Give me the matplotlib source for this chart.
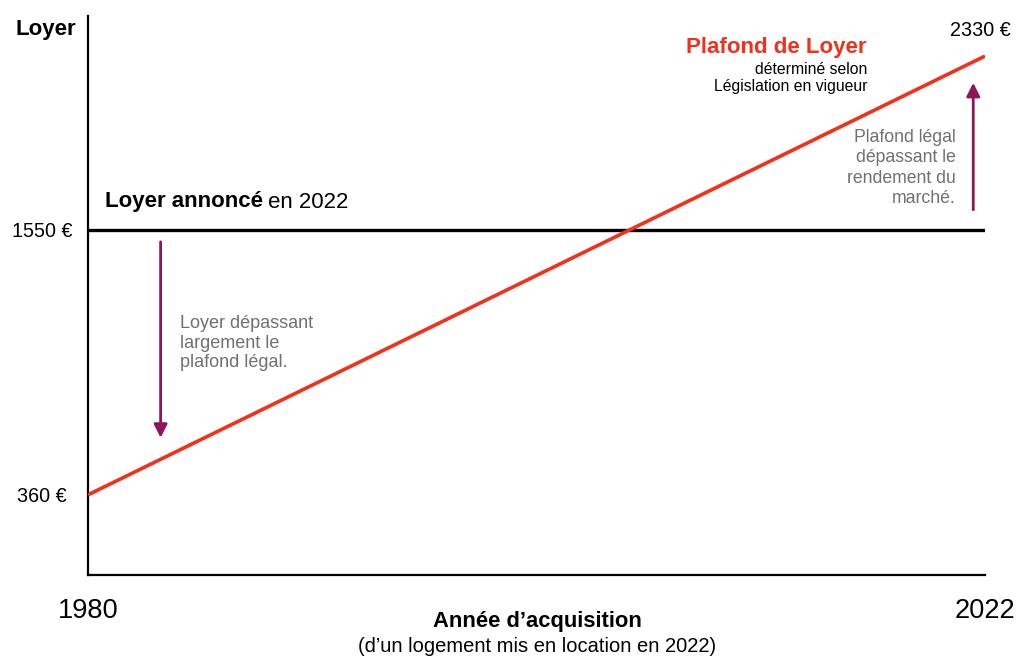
import matplotlib.pyplot as plt
from matplotlib.transforms import ScaledTranslation

plt.rcParams['font.family'] = ['Liberation Sans', 'DejaVu Sans']

# valeurs
annees = [1980, 2022]
plafond = [360, 2330]
loyer_annonce = 1550
y_ticks = [360, 1550]
y_labels = ['360 €', '1550 €']

rouge = '#f2301c'
violet = '#8c1657'
gris = '#707070'

W, H = 1016, 657
fig = plt.figure(figsize=(W / 100, H / 100), dpi=100)
ax = fig.add_axes([88 / W, 1 - 575 / H, 897 / W, 559 / H])


def px(x, y):
    # pixels -> fraction de figure
    return x / W, 1 - y / H


ax.plot(annees, plafond, color=rouge, lw=2.6, solid_capstyle='butt', zorder=3)
ax.plot(annees, [loyer_annonce] * 2, color='black', lw=2.4, solid_capstyle='butt', zorder=2)

ax.set_xlim(1980, 2022)
ax.set_ylim(0, 2510)
for s in ['top', 'right']:
    ax.spines[s].set_visible(False)
for s in ['left', 'bottom']:
    ax.spines[s].set_linewidth(1.6)

ax.set_yticks(y_ticks)
ax.set_yticklabels(y_labels, fontsize=14.2)
ax.set_xticks(annees)
ax.set_xticklabels([str(a) for a in annees], fontsize=19.6)
ax.tick_params(axis='y', length=0, pad=11)
ax.tick_params(axis='x', length=0, pad=16.5)
# le 360 est un peu plus a gauche dans l'original
lab = ax.get_yticklabels()[0]
lab.set_transform(lab.get_transform() + ScaledTranslation(-0.06, 0, fig.dpi_scale_trans))

# fleches
ax.annotate('', xy=(1983.4, 616), xytext=(1983.4, 1496),
            arrowprops=dict(arrowstyle='-|>', color=violet, lw=2, mutation_scale=20,
                            shrinkA=0, shrinkB=0))
ax.annotate('', xy=(2021.45, 2210), xytext=(2021.45, 1640),
            arrowprops=dict(arrowstyle='-|>', color=violet, lw=2, mutation_scale=20,
                            shrinkA=0, shrinkB=0))

# textes
fig.text(*px(76, 30), 'Loyer', fontsize=16, fontweight='bold', ha='right', va='center')
fig.text(*px(1011, 30), '2330 €', fontsize=14.2, ha='right', va='center')
fig.text(*px(867, 47), 'Plafond de Loyer', fontsize=16, fontweight='bold', color=rouge,
         ha='right', va='center')
fig.text(*px(867, 69), 'déterminé selon', fontsize=11.3, ha='right', va='center')
fig.text(*px(867, 87), 'Législation en vigueur', fontsize=11.3, ha='right', va='center')
fig.text(*px(956, 168), 'Plafond légal\ndépassant le\nrendement du\nmarché.',
         fontsize=12.7, color=gris, ha='right', va='center', multialignment='right',
         linespacing=1.25)

t = fig.text(*px(105, 202), 'Loyer annoncé', fontsize=16, fontweight='bold',
             ha='left', va='center')
fig.canvas.draw()
bb = t.get_window_extent()
fig.text(bb.x1 / W + 5 / W, 1 - 202 / H, 'en 2022', fontsize=16, ha='left', va='center')

fig.text(*px(180, 343), 'Loyer dépassant\nlargement le\nplafond légal.',
         fontsize=13, color=gris, ha='left', va='center', linespacing=1.2)

fig.text(*px(537, 621), 'Année d’acquisition', fontsize=15.8, fontweight='bold',
         ha='center', va='center')
fig.text(*px(537, 647), '(d’un logement mis en location en 2022)', fontsize=14.5,
         ha='center', va='center')

fig.savefig('out.png', dpi=100)
